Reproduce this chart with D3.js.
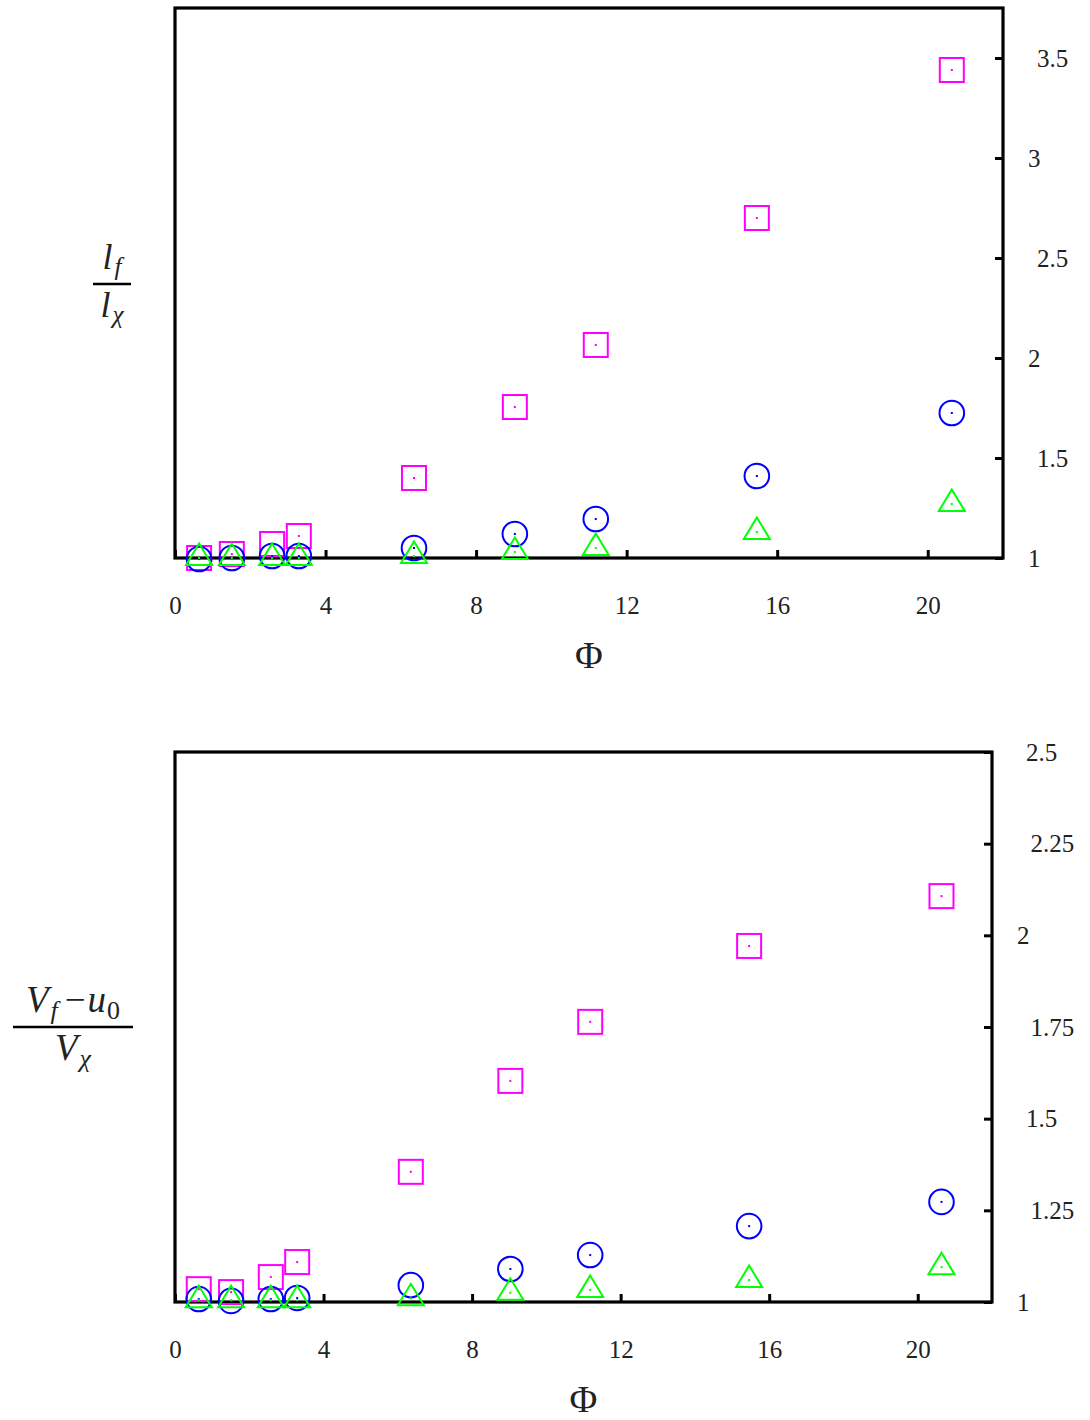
<!DOCTYPE html>
<html>
<head>
<meta charset="utf-8">
<script src="https://cdn.jsdelivr.net/npm/d3@7"></script>
<style>
  html, body { margin: 0; padding: 0; background: #fff; }
  svg { display: block; }
  text { font-family: "Liberation Serif", "DejaVu Serif", serif; fill: #222; }
</style>
</head>
<body>
<svg id="chart" width="1090" height="1420"></svg>
<script>
// ---------- data ----------
const phi = [0.64, 1.51, 2.58, 3.29, 6.35, 9.03, 11.18, 15.46, 20.64];

// top panel: l_f / l_chi
const lenSquares   = [1.00, 1.02, 1.07, 1.11, 1.40, 1.755, 2.065, 2.70, 3.44];
const lenCircles   = [0.995, 1.00, 1.01, 1.01, 1.05, 1.12, 1.195, 1.41, 1.725];
const lenTriangles = [1.00, 1.00, 1.00, 1.00, 1.01, 1.03, 1.05, 1.13, 1.27];

// bottom panel: (V_f - u_0) / V_chi
const velSquares   = [1.035, 1.027, 1.068, 1.109, 1.355, 1.603, 1.764, 1.971, 2.107];
const velCircles   = [1.008, 1.003, 1.008, 1.011, 1.046, 1.09, 1.128, 1.207, 1.273];
const velTriangles = [1.005, 1.005, 1.005, 1.005, 1.01, 1.025, 1.033, 1.06, 1.095];

const xTicks = [0, 4, 8, 12, 16, 20];
const topYTicks = [1, 1.5, 2, 2.5, 3, 3.5];
const topYLabels = ["1", "1.5", "2", "2.5", "3", "3.5"];
const botYTicks = [1, 1.25, 1.5, 1.75, 2, 2.25, 2.5];
const botYLabels = ["1", "1.25", "1.5", "1.75", "2", "2.25", "2.5"];

// ---------- drawing ----------
const svg = d3.select("#chart");
const MAGENTA = "#ff00ff", BLUE = "#0000ff", GREEN = "#00ff00";
const TICK_FS = 25;

function drawPanel(p) {
  const x = d3.scaleLinear().domain([0, 22]).range([p.left, p.right]);
  const y = d3.scaleLinear().domain(p.yDomain).range([p.bottom, p.top]);
  const g = svg.append("g");

  // x axis (inward ticks)
  const xa = g.append("g")
    .attr("transform", `translate(0,${p.bottom})`)
    .call(d3.axisBottom(x).tickValues(xTicks).tickFormat(d3.format("d"))
      .tickSize(-8).tickSizeOuter(0).tickPadding(38));
  xa.select(".domain").remove();
  xa.selectAll(".tick line").attr("stroke", "#000").attr("stroke-width", 3);
  xa.selectAll(".tick text").attr("font-size", TICK_FS).attr("fill", "#222");

  // y axis on the right (inward ticks)
  const ya = g.append("g")
    .attr("transform", `translate(${p.right},0)`)
    .call(d3.axisRight(y).tickValues(p.yTicks)
      .tickFormat((d, i) => p.yLabels[i])
      .tickSize(-8).tickSizeOuter(0).tickPadding(0));
  ya.select(".domain").remove();
  ya.selectAll(".tick line").attr("stroke", "#000").attr("stroke-width", 3);
  ya.selectAll(".tick text").attr("font-size", TICK_FS).attr("fill", "#222")
    .attr("x", (d, i) => 25 + (p.yLabels[i].length - 1) * 4.5);

  // frame
  g.append("rect")
    .attr("x", p.left).attr("y", p.top)
    .attr("width", p.right - p.left).attr("height", p.bottom - p.top)
    .attr("fill", "none").attr("stroke", "#000").attr("stroke-width", 3.2);

  // markers
  const dot = (sel, color) => sel.append("rect")
    .attr("x", -1).attr("y", -1).attr("width", 2).attr("height", 2).attr("fill", color);

  const sq = g.append("g").selectAll("g").data(p.squares).join("g")
    .attr("transform", (d, i) => `translate(${x(phi[i])},${y(d)})`);
  sq.append("rect").attr("x", -12).attr("y", -12).attr("width", 24).attr("height", 24)
    .attr("fill", "none").attr("stroke", MAGENTA).attr("stroke-width", 2);
  dot(sq, MAGENTA);

  const ci = g.append("g").selectAll("g").data(p.circles).join("g")
    .attr("transform", (d, i) => `translate(${x(phi[i])},${y(d)})`);
  ci.append("circle").attr("r", 12.3)
    .attr("fill", "none").attr("stroke", BLUE).attr("stroke-width", 2);
  dot(ci, BLUE);

  const tr = g.append("g").selectAll("g").data(p.triangles).join("g")
    .attr("transform", (d, i) => `translate(${x(phi[i])},${y(d)})`);
  tr.append("path").attr("d", "M0,-14.5 L13,7 L-13,7 Z")
    .attr("fill", "none").attr("stroke", GREEN).attr("stroke-width", 2);
  dot(tr, GREEN);

  // x label
  g.append("text").attr("x", (p.left + p.right) / 2).attr("y", p.bottom + 110)
    .attr("text-anchor", "middle").attr("font-size", 38).attr("fill", "#222").text("Φ");
}

drawPanel({
  left: 175, right: 1003, top: 8, bottom: 558, yDomain: [1, 3.75],
  yTicks: topYTicks, yLabels: topYLabels,
  squares: lenSquares, circles: lenCircles, triangles: lenTriangles
});
drawPanel({
  left: 175, right: 992, top: 752, bottom: 1302, yDomain: [1, 2.5],
  yTicks: botYTicks, yLabels: botYLabels,
  squares: velSquares, circles: velCircles, triangles: velTriangles
});

// ---------- y-axis fraction labels ----------
function fraction(cx, barY, barW, fs, num, den) {
  const g = svg.append("g").attr("font-style", "italic").attr("font-size", fs).attr("fill", "#222");
  const t1 = g.append("text").attr("x", cx).attr("y", barY - 15).attr("text-anchor", "middle");
  num(t1);
  g.append("line").attr("x1", cx - barW / 2).attr("x2", cx + barW / 2)
    .attr("y1", barY).attr("y2", barY).attr("stroke", "#000").attr("stroke-width", 2.6);
  const t2 = g.append("text").attr("x", cx).attr("y", barY + 33).attr("text-anchor", "middle");
  den(t2);
}
const sub = (t, s, fs) => t.append("tspan").attr("font-size", fs * 0.7).attr("dy", fs * 0.18).attr("dx", 2).text(s);

fraction(112, 284, 38, 36,
  t => { t.append("tspan").text("l"); sub(t, "f", 36); },
  t => { t.append("tspan").text("l"); sub(t, "χ", 36); });

fraction(73, 1027, 120, 37,
  t => { t.append("tspan").text("V"); sub(t, "f", 37);
         t.append("tspan").attr("dy", -37 * 0.18).attr("font-style", "normal").attr("dx", 7).text("−");
         t.append("tspan").attr("dx", 2).text("u");
         t.append("tspan").attr("font-size", 37 * 0.7).attr("dy", 37 * 0.18).attr("dx", 1).attr("font-style", "normal").text("0"); },
  t => { t.append("tspan").text("V"); sub(t, "χ", 37); });
</script>
</body>
</html>
